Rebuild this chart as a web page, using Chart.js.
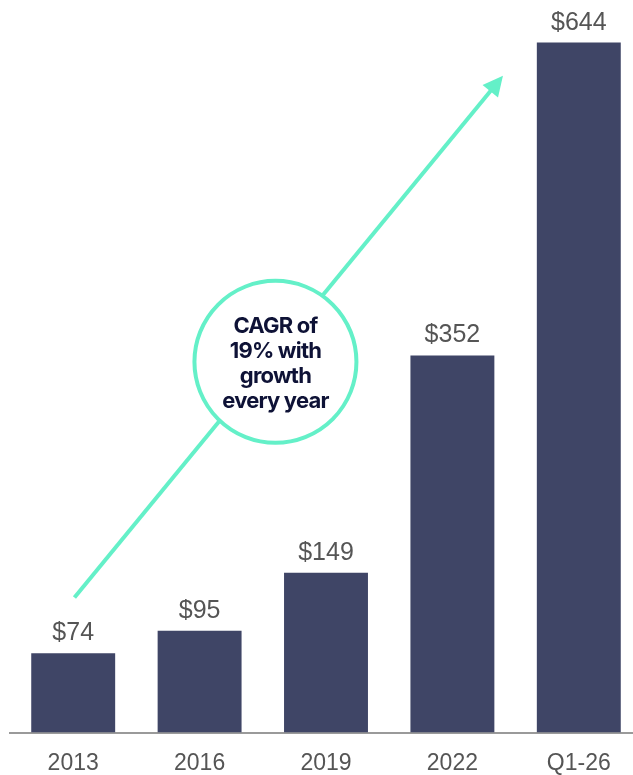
<!DOCTYPE html>
<html>
<head>
<meta charset="utf-8">
<script src="https://cdn.jsdelivr.net/npm/chart.js@4"></script>
<style>
  html, body { margin: 0; padding: 0; background: #fff; overflow: hidden; }
  #wrap { position: relative; width: 642px; height: 775px; }
</style>
</head>
<body>
<div id="wrap"><canvas id="grafica"></canvas></div>
<script>
// Datos
const periodos = ['2013', '2016', '2019', '2022', 'Q1-26'];
const valores = [74, 95, 149, 352, 644];
const etiquetas = ['$74', '$95', '$149', '$352', '$644'];

const COLOR_BARRA = '#3f4566';
const COLOR_MENTA = '#64f0c8';

// Etiquetas de valor encima de cada barra
const pluginEtiquetas = {
    id: 'etiquetas',
    afterDatasetsDraw(chart) {
        const ctx = chart.ctx;
        const meta = chart.getDatasetMeta(0);
        ctx.save();
        ctx.font = '25px "Liberation Sans", Arial, sans-serif';
        ctx.fillStyle = '#555555';
        ctx.textAlign = 'center';
        ctx.textBaseline = 'alphabetic';
        meta.data.forEach((barra, i) => {
            ctx.fillText(etiquetas[i], barra.x, barra.y - 13);
        });
        ctx.restore();
    }
};

// Flecha de crecimiento y círculo con el CAGR
const pluginFlecha = {
    id: 'flecha',
    afterDatasetsDraw(chart) {
        const ctx = chart.ctx;
        const x = chart.scales.x, y = chart.scales.y;
        const x0 = x.getPixelForValue(0.01), y0 = y.getPixelForValue(126);
        const x1 = x.getPixelForValue(3.4), y1 = y.getPixelForValue(613);
        const ang = Math.atan2(y1 - y0, x1 - x0);
        const largo = 20, ancho = 10;

        ctx.save();
        ctx.strokeStyle = COLOR_MENTA;
        ctx.fillStyle = COLOR_MENTA;
        ctx.lineWidth = 4;
        ctx.beginPath();
        ctx.moveTo(x0, y0);
        ctx.lineTo(x1 - Math.cos(ang) * (largo - 2), y1 - Math.sin(ang) * (largo - 2));
        ctx.stroke();

        ctx.beginPath();
        ctx.moveTo(x1, y1);
        ctx.lineTo(x1 - Math.cos(ang) * largo - Math.sin(ang) * ancho, y1 - Math.sin(ang) * largo + Math.cos(ang) * ancho);
        ctx.lineTo(x1 - Math.cos(ang) * largo + Math.sin(ang) * ancho, y1 - Math.sin(ang) * largo - Math.cos(ang) * ancho);
        ctx.closePath();
        ctx.fill();

        // círculo
        const cx = x.getPixelForValue(1.6), cy = y.getPixelForValue(346);
        ctx.beginPath();
        ctx.arc(cx, cy, 81, 0, Math.PI * 2);
        ctx.fillStyle = '#ffffff';
        ctx.fill();
        ctx.lineWidth = 4;
        ctx.strokeStyle = COLOR_MENTA;
        ctx.stroke();

        ctx.fillStyle = '#0e1236';
        ctx.font = 'bold 22px Inter, "Liberation Sans", sans-serif';
        ctx.textAlign = 'center';
        ctx.textBaseline = 'middle';
        if ('letterSpacing' in ctx) ctx.letterSpacing = '-0.8px';
        ['CAGR of', '19% with', 'growth', 'every year'].forEach((linea, i) => {
            ctx.fillText(linea, cx, cy - 35 + i * 25);
        });
        ctx.restore();
    }
};

new Chart(document.getElementById('grafica'), {
    type: 'bar',
    data: {
        labels: periodos,
        datasets: [{
            data: valores,
            backgroundColor: COLOR_BARRA,
            barPercentage: 0.664,
            categoryPercentage: 1
        }]
    },
    options: {
        responsive: true,
        maintainAspectRatio: false,
        animation: false,
        layout: { padding: { top: 4, left: 10, right: 0, bottom: 0 } },
        plugins: { legend: { display: false }, tooltip: { enabled: false } },
        scales: {
            x: {
                grid: { display: false, drawTicks: false },
                border: { display: true, color: '#9a9a9a', width: 2 },
                afterFit(escala) { escala.height = 42.5; },
                ticks: {
                    color: '#555555',
                    padding: 17,
                    font: { size: 23, family: '"Liberation Sans", Arial, sans-serif' }
                }
            },
            y: {
                display: false,
                min: 0,
                max: 680
            }
        }
    },
    plugins: [pluginEtiquetas, pluginFlecha]
});
</script>
</body>
</html>
